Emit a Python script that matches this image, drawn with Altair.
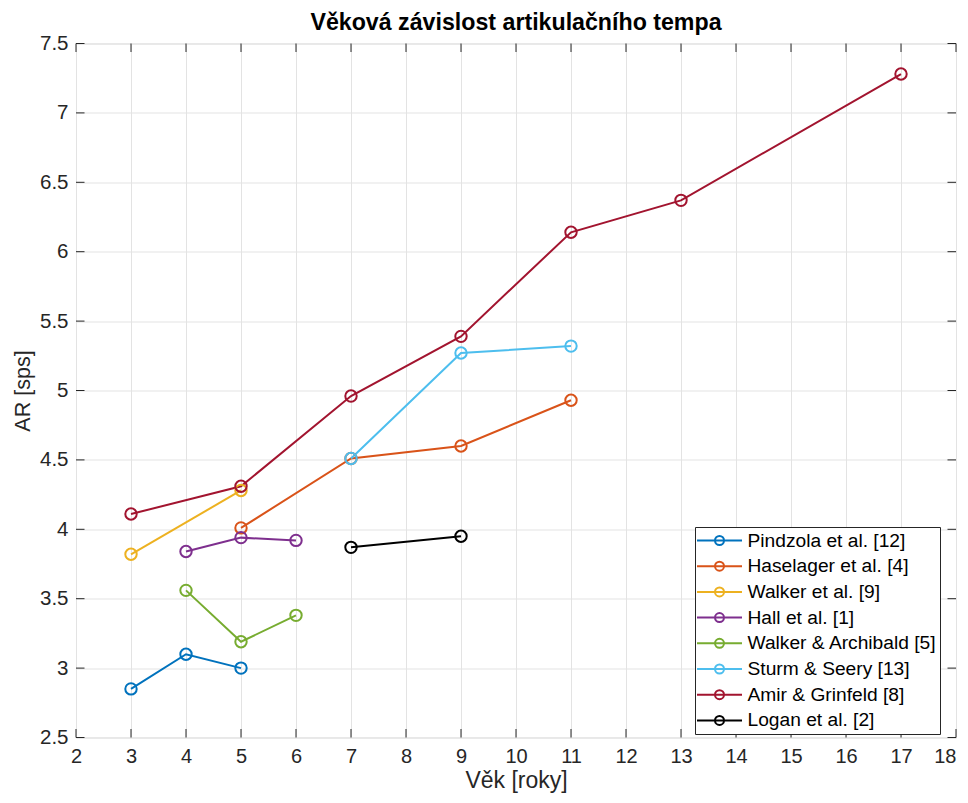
import altair as alt
import pandas as pd

# ---- data ----
studies = [
    "Pindzola et al. [12]",
    "Haselager et al. [4]",
    "Walker et al. [9]",
    "Hall et al. [1]",
    "Walker & Archibald [5]",
    "Sturm & Seery [13]",
    "Amir & Grinfeld [8]",
    "Logan et al. [2]",
]
ages = [
    [3, 4, 5],
    [5, 7, 9, 11],
    [3, 5],
    [4, 5, 6],
    [4, 5, 6],
    [7, 9, 11],
    [3, 5, 7, 9, 11, 13, 17],
    [7, 9],
]
rates = [
    [2.85, 3.10, 3.00],
    [4.01, 4.51, 4.60, 4.93],
    [3.82, 4.28],
    [3.84, 3.94, 3.92],
    [3.56, 3.19, 3.38],
    [4.51, 5.27, 5.32],
    [4.11, 4.31, 4.96, 5.39, 6.14, 6.37, 7.28],
    [3.87, 3.95],
]
colors = ["#0072BD", "#D95319", "#EDB120", "#7E2F8E",
          "#77AC30", "#4DBEEE", "#A2142F", "#000000"]
x_ticks = list(range(2, 19))
y_ticks = [2.5, 3.0, 3.5, 4.0, 4.5, 5.0, 5.5, 6.0, 6.5, 7.0, 7.5]

title = "Věková závislost artikulačního tempa"
x_title = "Věk [roky]"
y_title = "AR [sps]"

rows = []
for i, (s, xs, ys) in enumerate(zip(studies, ages, rates)):
    for x, y in zip(xs, ys):
        rows.append({"study": s, "age": x, "ar": y, "idx": i})
df = pd.DataFrame(rows)
xt = pd.DataFrame({"t": x_ticks})
yt = pd.DataFrame({"t": y_ticks})

W, H = 880, 694
TL = 8.5
FONT = "Liberation Sans"
AX = "#262626"

xscale = alt.Scale(domain=[2, 18], nice=False, zero=False)
yscale = alt.Scale(domain=[2.5, 7.5], nice=False, zero=False)

xaxis = alt.Axis(values=x_ticks, format="d", title=x_title, grid=True,
                 gridColor="#E3E3E3", gridWidth=1, ticks=False, domain=False,
                 labelFont=FONT, labelFontSize=20, labelColor=AX, labelPadding=9,
                 labelAlign={"condition": {"test": "datum.value == 18", "value": "right"},
                             "value": "center"},
                 titleFont=FONT, titleFontSize=23, titleFontWeight="normal",
                 titleColor=AX, titlePadding=3, labelFlush=False)
yaxis = alt.Axis(values=y_ticks, format=".1~f", title=y_title, grid=True,
                 gridColor="#E3E3E3", gridWidth=1, ticks=False, domain=False,
                 labelFont=FONT, labelFontSize=20.5, labelColor=AX, labelPadding=8,
                 titleFont=FONT, titleFontSize=21.5, titleFontWeight="normal",
                 titleColor=AX, titlePadding=5, labelFlush=False)

legend = alt.Legend(
    title=None, orient="none", legendX=619, legendY=483.5,
    symbolType="M-2.25,0L2.25,0M0.45,0A0.45,0.45,0,1,1,-0.45,0A0.45,0.45,0,1,1,0.45,0",
    symbolSize=400, symbolStrokeWidth=2, symbolFillColor="transparent",
    symbolOffset=11, labelOffset=17,
    labelFont=FONT, labelFontSize=19.2, labelColor="#000000",
    rowPadding=3.7, padding=2.5,
    strokeColor=AX, fillColor="#FFFFFF", labelLimit=400,
)

color = alt.Color("study:N", scale=alt.Scale(domain=studies, range=colors),
                  sort=studies, legend=legend)

X = alt.X("age:Q", scale=xscale, axis=xaxis)
Y = alt.Y("ar:Q", scale=yscale, axis=yaxis)

lines = alt.Chart(df).mark_line(strokeWidth=2).encode(
    x=X, y=Y, color=color, detail="study:N", order="age:Q")
points = alt.Chart(df).mark_point(filled=False, size=130, strokeWidth=2, opacity=1).encode(
    x=X, y=Y, color=color, order="idx:Q")

xb = alt.Chart(xt).mark_rule(color=AX, strokeWidth=1).encode(
    x=alt.X("t:Q", scale=xscale, axis=xaxis), y=alt.value(H), y2=alt.value(H - TL))
xtop = alt.Chart(xt).mark_rule(color=AX, strokeWidth=1).encode(
    x=alt.X("t:Q", scale=xscale, axis=xaxis), y=alt.value(0), y2=alt.value(TL))
yl = alt.Chart(yt).mark_rule(color=AX, strokeWidth=1).encode(
    y=alt.Y("t:Q", scale=yscale, axis=yaxis), x=alt.value(0), x2=alt.value(TL))
yr = alt.Chart(yt).mark_rule(color=AX, strokeWidth=1).encode(
    y=alt.Y("t:Q", scale=yscale, axis=yaxis), x=alt.value(W), x2=alt.value(W - TL))

chart = alt.layer(xb, xtop, yl, yr, lines, points).properties(
    width=W, height=H,
    title=alt.TitleParams(title, font=FONT, fontSize=23.2, fontWeight="bold",
                          color="#000000", anchor="middle", offset=-2),
    autosize=alt.AutoSizeParams(type="none"),
    padding={"left": 68, "top": 35.5, "right": 4, "bottom": 57},
).configure_view(stroke=AX, strokeWidth=1).configure(background="white")

chart.save("out.html", embed_options={"renderer": "svg", "actions": False})
